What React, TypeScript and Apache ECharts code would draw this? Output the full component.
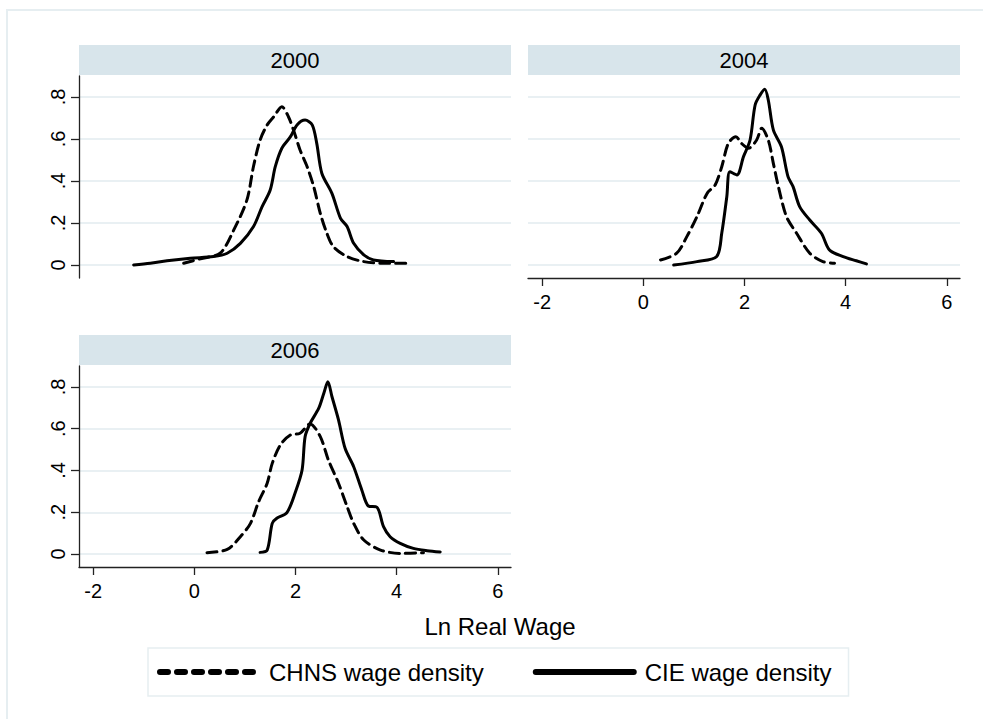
import React, { useEffect, useRef } from 'react';
import * as echarts from 'echarts';

const PANEL_TITLES = ['2000', '2004', '2006'];
const X_TICKS = [-2, 0, 2, 4, 6];
const Y_TICKS = [0, 0.2, 0.4, 0.6, 0.8];
const SERIES_NAMES = ['CHNS wage density', 'CIE wage density'];
const X_TITLE = 'Ln Real Wage';

const chns2000 = [
  [-0.21, 0.008], [0.12, 0.03], [0.51, 0.056], [0.78, 0.167], [1.04, 0.31], [1.17, 0.47],
  [1.3, 0.595], [1.44, 0.667], [1.57, 0.706], [1.73, 0.754], [1.86, 0.706], [1.96, 0.643],
  [2.09, 0.548], [2.23, 0.468], [2.36, 0.373], [2.49, 0.246], [2.62, 0.151], [2.75, 0.087],
  [3.02, 0.04], [3.35, 0.016], [3.74, 0.008], [4.2, 0.008],
];
const cie2000 = [
  [-1.2, 0.0], [-0.87, 0.008], [-0.54, 0.02], [-0.08, 0.032], [0.38, 0.04], [0.65, 0.056],
  [0.91, 0.103], [1.17, 0.183], [1.34, 0.278], [1.5, 0.357], [1.6, 0.468], [1.73, 0.556],
  [1.9, 0.611], [2.03, 0.667], [2.19, 0.69], [2.33, 0.667], [2.42, 0.579], [2.52, 0.437],
  [2.72, 0.341], [2.89, 0.222], [3.02, 0.183], [3.15, 0.103], [3.35, 0.048], [3.54, 0.024],
  [3.94, 0.016],
];
const chns2004 = [
  [0.34, 0.024], [0.66, 0.056], [0.86, 0.135], [1.06, 0.23], [1.26, 0.341], [1.42, 0.381],
  [1.55, 0.468], [1.68, 0.579], [1.83, 0.611], [1.94, 0.579], [2.08, 0.556], [2.24, 0.595],
  [2.34, 0.651], [2.47, 0.595], [2.57, 0.484], [2.67, 0.373], [2.83, 0.23], [3.03, 0.151],
  [3.29, 0.056], [3.55, 0.016], [3.78, 0.008],
];
const cie2004 = [
  [0.6, 0.0], [1.06, 0.016], [1.45, 0.04], [1.55, 0.151], [1.65, 0.325], [1.71, 0.444],
  [1.85, 0.429], [1.98, 0.516], [2.11, 0.595], [2.21, 0.762], [2.31, 0.81], [2.4, 0.837],
  [2.47, 0.786], [2.57, 0.643], [2.73, 0.563], [2.86, 0.421], [2.96, 0.373], [3.09, 0.278],
  [3.29, 0.214], [3.52, 0.151], [3.68, 0.071], [3.95, 0.04], [4.21, 0.02], [4.41, 0.005],
];
const chns2006 = [
  [0.25, 0.006], [0.65, 0.022], [0.91, 0.083], [1.11, 0.147], [1.27, 0.25], [1.44, 0.339],
  [1.54, 0.434], [1.7, 0.522], [1.9, 0.57], [2.09, 0.578], [2.29, 0.623], [2.49, 0.562],
  [2.65, 0.45], [2.85, 0.339], [3.02, 0.227], [3.15, 0.147], [3.35, 0.067], [3.68, 0.019],
  [4.07, 0.003], [4.53, 0.006],
];
const cie2006 = [
  [1.3, 0.008], [1.44, 0.019], [1.54, 0.147], [1.63, 0.171], [1.83, 0.198], [2.0, 0.298],
  [2.13, 0.402], [2.19, 0.562], [2.29, 0.626], [2.46, 0.698], [2.56, 0.77], [2.64, 0.825],
  [2.72, 0.754], [2.85, 0.642], [2.98, 0.506], [3.15, 0.418], [3.31, 0.307], [3.44, 0.23],
  [3.61, 0.224], [3.74, 0.131], [3.87, 0.083], [4.07, 0.051], [4.33, 0.027], [4.6, 0.016],
  [4.86, 0.01],
];

const PANEL_DATA = [
  [chns2000, cie2000],
  [chns2004, cie2004],
  [chns2006, cie2006],
];

const FONT = '"Liberation Sans", Arial, sans-serif';
const GRID_LINE = '#e9f0f3';
const STRIP = '#d8e5eb';
const AXIS = '#222222';

export default function App() {
  const ref = useRef<HTMLDivElement>(null);
  useEffect(() => {
    document.body.style.margin = '0';
    if (!ref.current) return;
    const chart = echarts.init(ref.current, undefined, { renderer: 'svg' });

    const grids = [
      { left: 79, top: 76, width: 432, height: 202 },
      { left: 528, top: 76, width: 432, height: 202 },
      { left: 79, top: 366, width: 432, height: 201 },
    ];
    const showX = [false, true, true];
    const showY = [true, false, true];

    const xAxis = grids.map((_, i) => ({
      type: 'value',
      gridIndex: i,
      min: -2.28,
      max: 6.26,
      axisLine: { show: showX[i], onZero: false, lineStyle: { color: AXIS, width: 1.3 } },
      axisTick: { show: showX[i], customValues: X_TICKS, length: 8, lineStyle: { color: AXIS, width: 1.3 } },
      axisLabel: {
        show: showX[i],
        customValues: X_TICKS,
        fontSize: 20,
        margin: 14,
        color: '#000',
        fontFamily: FONT,
      },
      splitLine: { show: false },
    }));

    const yAxis = grids.map((_, i) => ({
      type: 'value',
      gridIndex: i,
      min: -0.062,
      max: 0.9,
      axisLine: { show: showY[i], onZero: false, lineStyle: { color: AXIS, width: 1.3 } },
      axisTick: { show: showY[i], customValues: Y_TICKS, length: 8, lineStyle: { color: AXIS, width: 1.3 } },
      axisLabel: {
        show: showY[i],
        customValues: Y_TICKS,
        rotate: 90,
        fontSize: 20,
        margin: 11,
        color: '#000',
        fontFamily: FONT,
        formatter: (v: number) => (Math.abs(v) < 1e-9 ? '0' : v.toFixed(1).replace(/^0/, '')),
      },
      splitLine: { show: true, lineStyle: { color: GRID_LINE, width: 2 } },
    }));

    const series: any[] = [];
    PANEL_DATA.forEach((pair, i) => {
      pair.forEach((data, k) => {
        series.push({
          type: 'line',
          name: SERIES_NAMES[k],
          xAxisIndex: i,
          yAxisIndex: i,
          data,
          symbol: 'none',
          smooth: 0.3,
          z: 5,
          itemStyle: { color: '#000' },
          lineStyle: {
            color: '#000',
            width: 3,
            type: k === 0 ? [10, 6] : 'solid',
            cap: 'round',
            join: 'round',
          },
        });
      });
    });

    const stripPos = [
      { x: 79, y: 45 },
      { x: 528, y: 45 },
      { x: 79, y: 335 },
    ];
    const graphics: any[] = [
      {
        type: 'rect',
        shape: { x: 7, y: 10, width: 1000, height: 720 },
        style: { fill: 'none', stroke: '#e6eef1', lineWidth: 2 },
        silent: true,
      },
    ];
    stripPos.forEach((p, i) => {
      graphics.push({
        type: 'rect',
        shape: { x: p.x, y: p.y, width: 432, height: 30 },
        style: { fill: STRIP },
        silent: true,
      });
      graphics.push({
        type: 'text',
        x: p.x + 216,
        y: p.y + 15,
        style: {
          text: PANEL_TITLES[i],
          fontSize: 22,
          fontFamily: FONT,
          fill: '#000',
          align: 'center',
          verticalAlign: 'middle',
        },
        silent: true,
      });
    });
    graphics.push({
      type: 'text',
      x: 500,
      y: 626,
      style: {
        text: X_TITLE,
        fontSize: 24,
        fontFamily: FONT,
        fill: '#000',
        align: 'center',
        verticalAlign: 'middle',
      },
      silent: true,
    });

    chart.setOption({
      animation: false,
      backgroundColor: '#ffffff',
      textStyle: { fontFamily: FONT },
      grid: grids,
      xAxis,
      yAxis,
      series,
      graphic: graphics,
      legend: {
        left: 148,
        top: 648,
        orient: 'horizontal',
        itemWidth: 98,
        itemHeight: 21,
        itemGap: 49,
        padding: [12, 17, 12, 9],
        borderColor: '#e6eef1',
        borderWidth: 1.5,
        selectedMode: false,
        itemStyle: { opacity: 0, color: 'rgba(0,0,0,0)', borderWidth: 0 },
        textStyle: { fontSize: 24, color: '#000', fontFamily: FONT, padding: [0, 0, 0, 6] },
        data: [
          {
            name: SERIES_NAMES[0],
            itemStyle: { opacity: 0, color: 'rgba(0,0,0,0)', borderWidth: 0 },
            lineStyle: { width: 6, type: [8, 9], cap: 'round', color: '#000', opacity: 1 },
          },
          {
            name: SERIES_NAMES[1],
            itemStyle: { opacity: 0, color: 'rgba(0,0,0,0)', borderWidth: 0 },
            lineStyle: { width: 6, type: 'solid', cap: 'round', color: '#000', opacity: 1 },
          },
        ],
      },
    });
    return () => chart.dispose();
  }, []);
  return <div ref={ref} style={{ width: 983, height: 719 }} />;
}
